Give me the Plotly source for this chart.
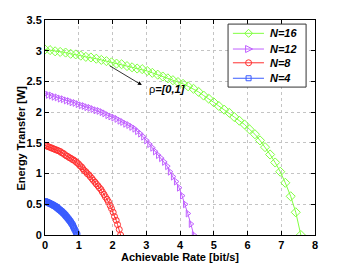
import plotly.graph_objects as go

# ---- data ----
labels = ["N=16", "N=12", "N=8", "N=4"]

rate_n16 = [0, 0.15, 0.30, 0.45, 0.61, 0.76, 0.91, 1.06, 1.21, 1.36,
            1.52, 1.67, 1.82, 1.97, 2.12, 2.27, 2.43, 2.58, 2.73, 2.88,
            3.03, 3.18, 3.34, 3.49, 3.64, 3.79, 3.94, 4.09, 4.24, 4.40,
            4.55, 4.70, 4.85, 5.00, 5.15, 5.31, 5.46, 5.61, 5.76, 5.91,
            6.06, 6.22, 6.37, 6.52, 6.67, 6.82, 6.97, 7.12, 7.28, 7.43,
            7.58]
energy_n16 = [3.02, 3.01, 2.99, 2.98, 2.97, 2.95, 2.94, 2.92, 2.90, 2.89,
              2.87, 2.85, 2.83, 2.81, 2.79, 2.78, 2.75, 2.73, 2.71, 2.70,
              2.67, 2.64, 2.61, 2.58, 2.55, 2.52, 2.49, 2.46, 2.42, 2.38,
              2.33, 2.27, 2.22, 2.16, 2.10, 2.04, 1.99, 1.92, 1.86, 1.80,
              1.72, 1.64, 1.54, 1.43, 1.31, 1.18, 1.03, 0.85, 0.63, 0.37,
              0]

rate_n12 = [0, 0.09, 0.18, 0.26, 0.35, 0.44, 0.53, 0.62, 0.71, 0.79,
            0.88, 0.97, 1.06, 1.15, 1.23, 1.32, 1.41, 1.50, 1.59, 1.68,
            1.76, 1.85, 1.94, 2.03, 2.12, 2.21, 2.29, 2.38, 2.47, 2.56,
            2.65, 2.73, 2.82, 2.91, 3.00, 3.09, 3.18, 3.26, 3.35, 3.44,
            3.53, 3.62, 3.70, 3.79, 3.88, 3.97, 4.06, 4.15, 4.23, 4.32,
            4.41]
energy_n12 = [2.30, 2.28, 2.27, 2.25, 2.24, 2.22, 2.21, 2.19, 2.18, 2.16,
              2.15, 2.13, 2.11, 2.10, 2.08, 2.07, 2.05, 2.03, 2.02, 2.00,
              1.98, 1.95, 1.93, 1.91, 1.89, 1.86, 1.84, 1.81, 1.79, 1.76,
              1.73, 1.69, 1.65, 1.60, 1.54, 1.48, 1.42, 1.36, 1.30, 1.25,
              1.19, 1.12, 1.03, 0.95, 0.87, 0.77, 0.64, 0.50, 0.35, 0.18,
              0]

rate_n8 = [0, 0.04, 0.09, 0.13, 0.18, 0.22, 0.27, 0.31, 0.36, 0.40,
           0.45, 0.49, 0.54, 0.58, 0.63, 0.67, 0.72, 0.76, 0.81, 0.85,
           0.90, 0.94, 0.99, 1.03, 1.08, 1.12, 1.16, 1.21, 1.25, 1.30,
           1.34, 1.39, 1.43, 1.48, 1.52, 1.57, 1.61, 1.66, 1.70, 1.75,
           1.79, 1.84, 1.88, 1.93, 1.97, 2.02, 2.06, 2.11, 2.15, 2.20,
           2.24]
energy_n8 = [1.46, 1.45, 1.44, 1.43, 1.42, 1.41, 1.40, 1.39, 1.38, 1.37,
             1.36, 1.34, 1.33, 1.31, 1.29, 1.28, 1.26, 1.25, 1.23, 1.22,
             1.20, 1.18, 1.16, 1.13, 1.11, 1.08, 1.05, 1.03, 1.00, 0.98,
             0.95, 0.92, 0.89, 0.86, 0.83, 0.80, 0.77, 0.74, 0.70, 0.66,
             0.62, 0.58, 0.54, 0.48, 0.43, 0.37, 0.30, 0.24, 0.17, 0.09,
             0]

rate_n4 = [0, 0.02, 0.04, 0.06, 0.08, 0.10, 0.12, 0.13, 0.15, 0.17,
           0.19, 0.21, 0.23, 0.25, 0.27, 0.29, 0.31, 0.33, 0.35, 0.36,
           0.38, 0.40, 0.42, 0.44, 0.46, 0.48, 0.50, 0.52, 0.54, 0.56,
           0.58, 0.60, 0.61, 0.63, 0.65, 0.67, 0.69, 0.71, 0.73, 0.75,
           0.77, 0.79, 0.81, 0.83, 0.84, 0.86, 0.88, 0.90, 0.92, 0.94,
           0.96]
energy_n4 = [0.550, 0.545, 0.540, 0.536, 0.531, 0.526, 0.521, 0.516, 0.512, 0.507,
             0.502, 0.496, 0.490, 0.483, 0.477, 0.471, 0.464, 0.458, 0.451, 0.443,
             0.434, 0.425, 0.416, 0.407, 0.398, 0.389, 0.380, 0.370, 0.358, 0.347,
             0.337, 0.326, 0.315, 0.303, 0.291, 0.277, 0.263, 0.249, 0.235, 0.221,
             0.204, 0.187, 0.170, 0.152, 0.134, 0.112, 0.090, 0.068, 0.044, 0.022,
             0]

x_ticks = [0, 1, 2, 3, 4, 5, 6, 7, 8]
y_ticks = [0, 0.5, 1, 1.5, 2, 2.5, 3, 3.5]
y_tick_text = ["0", "0.5", "1", "1.5", "2", "2.5", "3", "3.5"]

colors = ["#80ff40", "#c060ff", "#ff3030", "#3a5cff"]
symbols = ["diamond-open", "triangle-right-open", "circle-open", "square-open"]
sizes = [7, 6, 6, 5]
rates = [rate_n16, rate_n12, rate_n8, rate_n4]
energies = [energy_n16, energy_n12, energy_n8, energy_n4]

fig = go.Figure()
for name, xs, ys, col, sym, sz in zip(labels, rates, energies, colors, symbols, sizes):
    fig.add_trace(go.Scatter(
        x=xs, y=ys, mode="lines+markers", name=name, showlegend=False,
        line=dict(color=col, width=1),
        marker=dict(symbol=sym, size=sz, color=col, line=dict(color=col, width=1)),
    ))

font_main = "Liberation Sans, Arial, sans-serif"

axis_common = dict(
    showline=True, linecolor="black", linewidth=1, mirror="ticks",
    ticks="inside", ticklen=4, tickcolor="black",
    showgrid=True, gridcolor="#c4c4c4", griddash="dot", gridwidth=1,
    zeroline=False, automargin=False,
    tickfont=dict(family=font_main, size=11, color="black", weight="bold"),
)
fig.update_xaxes(range=[0, 8], tickvals=x_ticks, ticktext=[str(v) for v in x_ticks], **axis_common)
fig.update_yaxes(range=[0, 3.5], tickvals=y_ticks, ticktext=y_tick_text, **axis_common)

# axis titles
fig.add_annotation(x=0.5, y=-0.102, xref="paper", yref="paper", showarrow=False,
                   xanchor="center", yanchor="middle",
                   text="<b>Achievable Rate [bit/s]</b>",
                   font=dict(family=font_main, size=11, color="black"))
fig.add_annotation(x=-0.089, y=0.453, xref="paper", yref="paper", showarrow=False,
                   xanchor="center", yanchor="middle", textangle=-90,
                   text="<b>Energy Transfer [W]</b>",
                   font=dict(family=font_main, size=11, color="black"))

# arrow for rho annotation
fig.add_annotation(x=2.87, y=2.44, ax=1.87, ay=2.77, axref="x", ayref="y",
                   xref="x", yref="y", text="", showarrow=True,
                   arrowhead=2, arrowsize=1, arrowwidth=0.8, arrowcolor="black")
fig.add_annotation(x=3.03, y=2.37, xref="x", yref="y", xanchor="left", yanchor="middle",
                   text="ρ<b><i>=[0,1]</i></b>", showarrow=False,
                   font=dict(family=font_main, size=11, color="black"))

# compact legend box (MATLAB style)
leg_x0, leg_x1, leg_y0, leg_y1 = 0.678, 0.967, 0.688, 0.981
leg_rows = [0.938, 0.865, 0.801, 0.729]
line_x0, line_x1, sym_x, text_x = 0.696, 0.811, 0.754, 0.826
marker_shapes = [
    dict(type="path", path="M0,4 L4,0 L0,-4 L-4,0 Z"),
    dict(type="path", path="M-3,3.5 L4,0 L-3,-3.5 Z"),
    dict(type="circle", x0=-3, x1=3, y0=-3, y1=3),
    dict(type="rect", x0=-2.5, x1=2.5, y0=-2.5, y1=2.5),
]
fig.add_shape(type="rect", xref="paper", yref="paper", x0=leg_x0, x1=leg_x1,
              y0=leg_y0, y1=leg_y1, line=dict(color="#333333", width=1),
              fillcolor="white", layer="above")
for name, col, ry, mshape in zip(labels, colors, leg_rows, marker_shapes):
    fig.add_shape(type="line", xref="paper", yref="paper", x0=line_x0, x1=line_x1,
                  y0=ry, y1=ry, line=dict(color=col, width=1), layer="above")
    fig.add_shape(xref="paper", yref="paper", xsizemode="pixel", ysizemode="pixel",
                  xanchor=sym_x, yanchor=ry, line=dict(color=col, width=1),
                  fillcolor="rgba(0,0,0,0)", layer="above", **mshape)
    fig.add_annotation(x=text_x, y=ry, xref="paper", yref="paper", showarrow=False,
                       xanchor="left", yanchor="middle", text=f"<b><i>{name}</i></b>",
                       font=dict(family=font_main, size=11, color="black"))

# page body adds an 8px offset, so the figure is sized to fill the rest of the window
fig.update_layout(
    width=340, height=257,
    margin=dict(l=37, r=33, t=12, b=30),
    paper_bgcolor="white", plot_bgcolor="white",
    showlegend=False,
)

fig.write_html("out.html")
